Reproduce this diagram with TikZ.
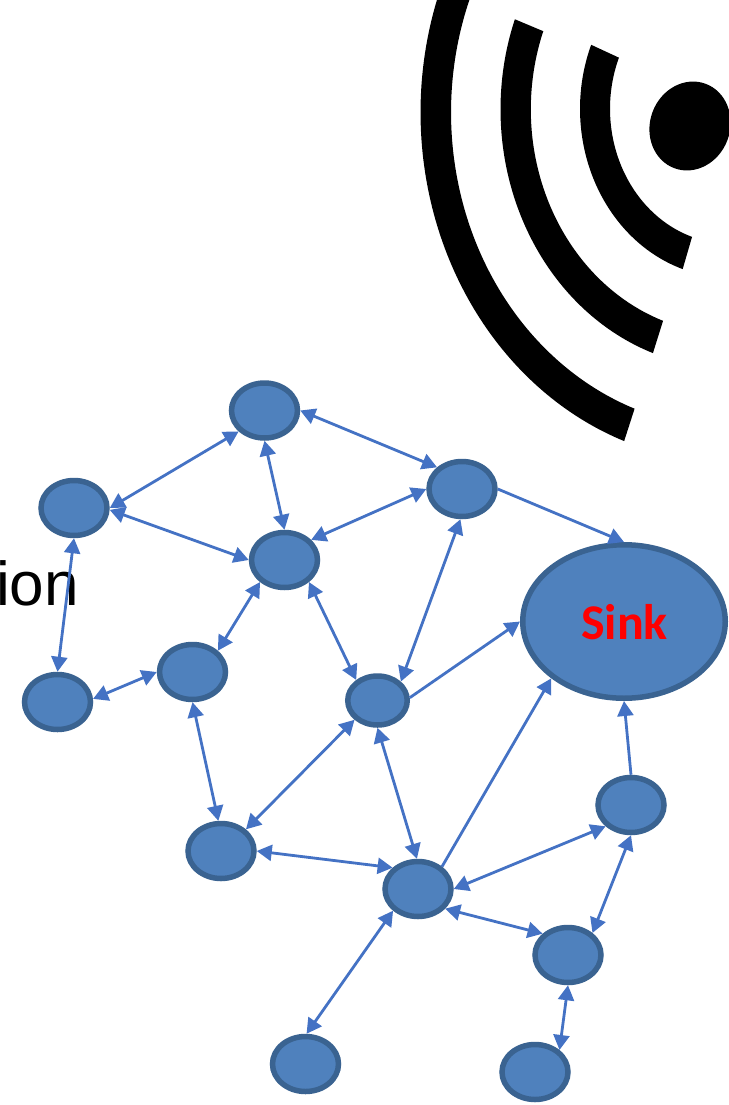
\documentclass[tikz,border=0pt]{standalone}
\usepackage{fontspec}
\setmainfont{Liberation Sans}
\newfontfamily\sinkfont{Carlito}
\usetikzlibrary{arrows.meta,shapes.geometric}
\definecolor{nodefill}{HTML}{4F81BD}
\definecolor{nodeline}{HTML}{3A6391}
\definecolor{linkblue}{HTML}{4472C4}
\tikzset{
  mote/.style={ellipse,draw=nodeline,fill=nodefill,line width=5.5pt,inner sep=0pt,minimum width=66pt,minimum height=55pt},
  smallmote/.style={mote,minimum width=59.5pt,minimum height=49pt},
  sinkmote/.style={mote,minimum width=202.5pt,minimum height=153.5pt},
  link/.style={draw=linkblue,line width=2.8pt,{Triangle[length=15pt,width=16pt]}-{Triangle[length=15pt,width=16pt]}},
  oneway/.style={draw=linkblue,line width=2.8pt,-{Triangle[length=15pt,width=16pt]}}
}
\newcommand{\wavearc}[6]{% cx, cy, r inner, r outer, from, to
  \fill[black] plot[domain=#5:#6,samples=90] ({#1+#4*cos(\x)},{1.13*(#2+#4*sin(\x))})
    -- plot[domain=#6:#5,samples=90] ({#1+#3*cos(\x)},{1.13*(#2+#3*sin(\x))}) -- cycle;}
\begin{document}
\begin{tikzpicture}[x=1pt,y=-1pt]
\useasboundingbox (0,0) rectangle (728,1105);
% radio waves
\wavearc{729.3}{96.3}{119.3}{149.3}{108.2}{202.3}
\wavearc{729.3}{96.8}{198.5}{228.8}{109.5}{200.4}
\wavearc{730}{99.5}{279}{309.5}{110}{201}
\fill[black,rotate around={-20:(690,126)}] (690,126) ellipse (40pt and 45pt);
% partial label
\node[anchor=base west,inner sep=0pt,font=\fontsize{62}{64}\selectfont] (lbl) at (-4,605) {ion};
% nodes
\node[mote] (a) at (264.5,410.5) {};
\node[mote] (b) at (74,508) {};
\node[mote] (c) at (284.5,560) {};
\node[mote] (d) at (462,489) {};
\node[mote] (e) at (57.5,702) {};
\node[mote] (f) at (192.5,672) {};
\node[smallmote] (g) at (377.5,700.5) {};
\node[sinkmote] (s) at (624,621.5) {};
\node[mote] (h) at (221,851) {};
\node[mote] (i) at (418,889) {};
\node[mote] (j) at (631,805) {};
\node[mote] (k) at (568,955) {};
\node[mote] (l) at (305.5,1064) {};
\node[mote] (m) at (535,1072) {};
\node[text=red,font=\sinkfont\bfseries\fontsize{50}{52}\selectfont] (sinklabel) at (624.5,622) {Sink};
% connectors
\draw[link] (a.219) -- (b.0);
\draw[link] (a.270) -- (c.90);
\draw[link] (a.0) -- (d.139);
\draw[link] (b.357) -- (c.180);
\draw[link] (b.270) -- (e.90);
\draw[link] (c.37) -- (d.180);
\draw[link] (c.222) -- (f.40);
\draw[link] (c.318) -- (g.136);
\draw[link] (d.267) -- (g.39);
\draw[oneway] (d.0) -- (s.90);
\draw[link] (e.5) -- (f.180);
\draw[link] (f.270) -- (h.95);
\draw[oneway] (g.5) -- (s.180);
\draw[link] (g.220) -- (h.41);
\draw[link] (g.270) -- (i.92);
\draw[link] (h.0) -- (i.140);
\draw[oneway] (i.43) -- (s.218);
\draw[link] (i.0) -- (j.220);
\draw[link] (i.221) -- (l.88);
\draw[link] (i.324) -- (k.140);
\draw[oneway] (j.90) -- (s.270);
\draw[link] (j.270) -- (k.42);
\draw[link] (k.270) -- (m.42);
\end{tikzpicture}
\end{document}
